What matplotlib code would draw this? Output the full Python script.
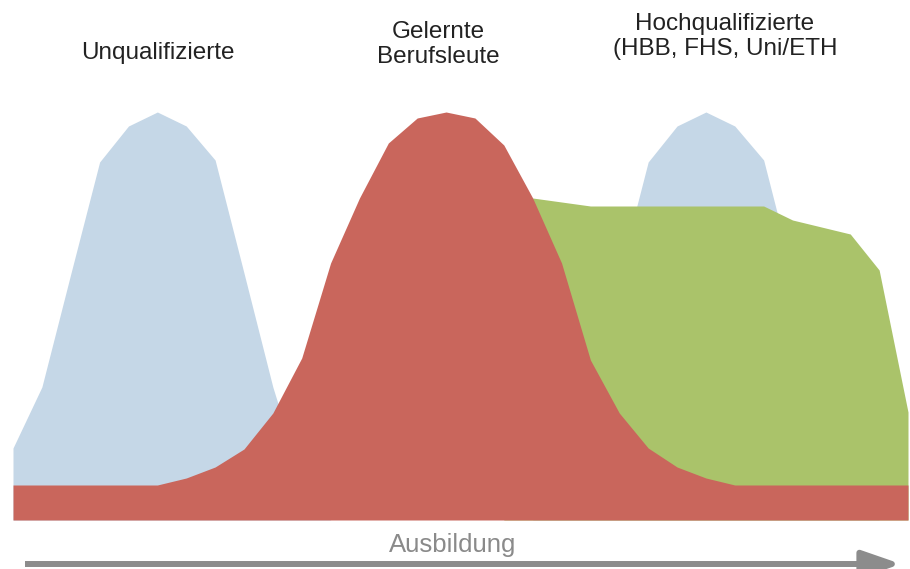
import matplotlib.pyplot as plt
from matplotlib.patches import FancyArrowPatch

# three overlapping (not stacked) area series, one value per step along "Ausbildung"
steps = list(range(32))

unqualifiziert = [72, 133, 246, 358, 394, 408, 394, 360, 247, 133, 40,
                  0, 0, 0, 0, 0, 0, 0, 0, 40, 133, 246, 358, 394, 408,
                  394, 360, 247, 133, 40, 0, 0]
berufsleute = [35, 35, 35, 35, 35, 35, 42, 53, 71, 107, 162, 257, 322,
               377, 402, 408, 402, 375, 322, 257, 160, 107, 72, 53, 42,
               35, 35, 35, 35, 35, 35, 35]
hochqualifiziert = [0, 0, 0, 0, 0, 0, 0, 0, 0, 0, 0, 0, 0, 0, 0, 0, 0, 0,
                    322, 318, 314, 314, 314, 314, 314, 314, 314, 300, 293,
                    286, 250, 108]

labels = ["Unqualifizierte", "Gelernte\nBerufsleute",
          "Hochqualifizierte\n(HBB, FHS, Uni/ETH"]
label_x = [158, 438, 725]        # pixel centres
label_base = [59, 63, 55]        # pixel baseline of last line

W, H = 910, 569
plt.rcParams['font.family'] = ['Liberation Sans', 'DejaVu Sans']

fig = plt.figure(figsize=(W / 100, H / 100), dpi=100)
ax = fig.add_axes([13 / W, (H - 520) / H, 895 / W, 520 / H])

ax.fill_between(steps, unqualifiziert, color="#c5d7e7", lw=0)
ax.fill_between(steps, hochqualifiziert, color="#aac36a", lw=0)
ax.fill_between(steps, berufsleute, color="#c9665c", lw=0)

ax.set_xlim(0, 31)
ax.set_ylim(0, 520)
ax.axis("off")

for txt, x, y in zip(labels, label_x, label_base):
    fig.text(x / W, 1 - y / H, txt, ha="center", va="baseline",
             fontsize=17.5, color="#222222", linespacing=1.15)

fig.text(453 / W, 1 - 552 / H, "Ausbildung", ha="center", va="baseline",
         fontsize=18.5, color="#8a8a8a")

arrow = FancyArrowPatch((25 / W, 1 - 564 / H), (901 / W, 1 - 564 / H),
                        transform=fig.transFigure,
                        arrowstyle="-|>,head_length=1.3,head_width=0.45",
                        mutation_scale=18, lw=4.3, color="#8c8c8c",
                        shrinkA=0, shrinkB=0, capstyle="butt")
fig.add_artist(arrow)

fig.savefig("out.png", dpi=100)
plt.close(fig)
